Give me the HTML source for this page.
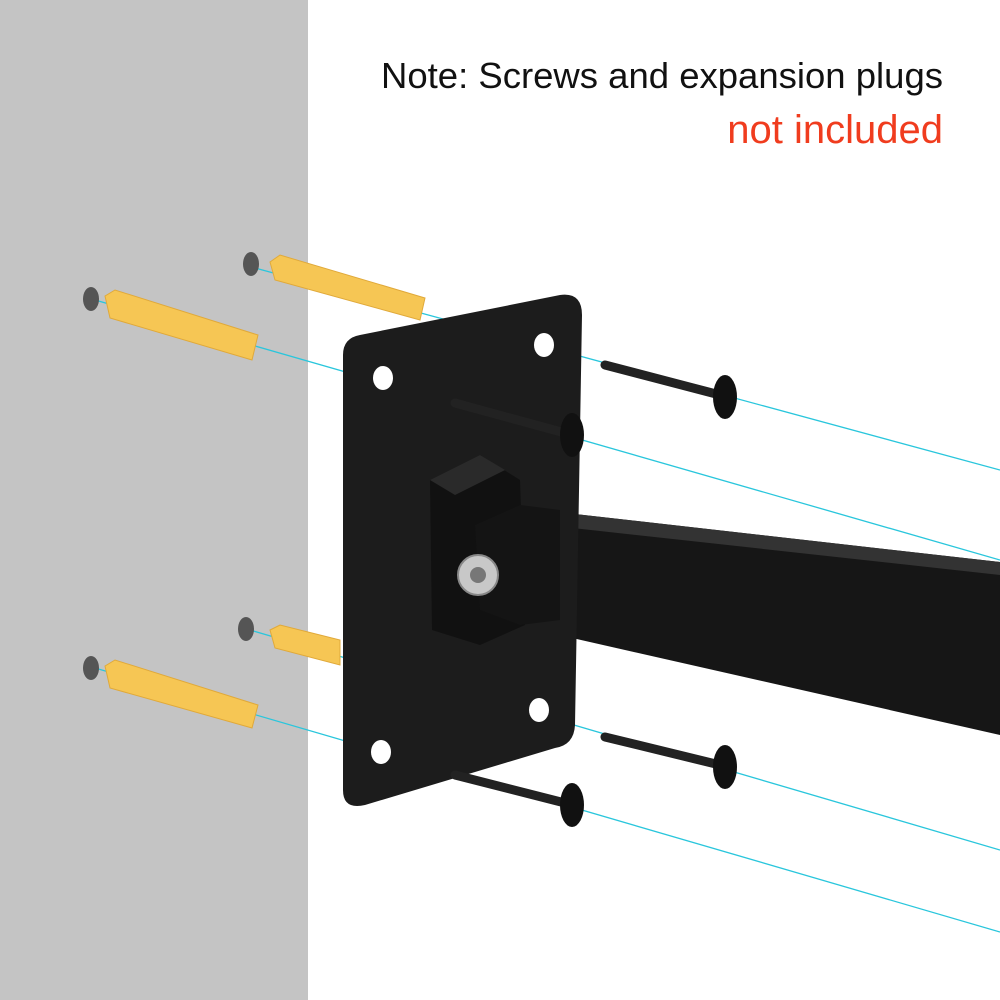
<!DOCTYPE html>
<html><head><meta charset="utf-8"><style>
html,body{margin:0;padding:0;width:1000px;height:1000px;overflow:hidden;background:#fff}
svg{display:block}
</style></head><body>
<svg width="1000" height="1000" viewBox="0 0 1000 1000" xmlns="http://www.w3.org/2000/svg">
<rect x="0" y="0" width="1000" height="1000" fill="#fff"/>
<rect x="0" y="0" width="308" height="1000" fill="#c4c4c4"/>
<text x="943" y="88" text-anchor="end" font-family="Liberation Sans, sans-serif" font-size="36.5" fill="#111">Note: Screws and expansion plugs</text>
<text x="943" y="143" text-anchor="end" font-family="Liberation Sans, sans-serif" font-size="40" fill="#f03c1e">not included</text>

<g stroke="#29c6dc" stroke-width="1.3">
<line x1="255" y1="268" x2="1000" y2="470"/>
<line x1="95" y1="300" x2="1000" y2="560"/>
<line x1="250" y1="630" x2="1000" y2="850"/>
<line x1="95" y1="668" x2="1000" y2="932"/>
</g>

<g fill="#555">
<ellipse cx="91" cy="299" rx="8" ry="12"/>
<ellipse cx="251" cy="264" rx="8" ry="12"/>
<ellipse cx="246" cy="629" rx="8" ry="12"/>
<ellipse cx="91" cy="668" rx="8" ry="12"/>
</g>

<g fill="#f6c654" stroke="#e0a93a" stroke-width="1">
<polygon points="270,262 280,255 425,298 420,320 275,280"/>
<polygon points="105,296 115,290 258,335 252,360 110,318"/>
<polygon points="270,630 280,625 340,640 340,665 275,648"/>
<polygon points="105,666 115,660 258,705 252,728 110,688"/>
</g>

<polygon points="495,505 1000,562 1000,735 515,625" fill="#161616"/>
<polygon points="495,505 1000,562 1000,575 500,520" fill="#333"/>

<path d="M360,335 L560,295 Q582,292 582,315 L575,725 Q574,745 555,748 L365,805 Q343,810 343,790 L343,355 Q343,338 360,335 Z" fill="#1c1c1c"/>
<polygon points="430,480 480,455 520,480 525,625 480,645 432,630" fill="#111"/>
<polygon points="430,480 480,455 505,470 455,495" fill="#2a2a2a"/>
<polygon points="475,525 520,505 560,510 560,620 520,625 480,610" fill="#141414"/>
<circle cx="478" cy="575" r="20" fill="#c8c8c8" stroke="#888" stroke-width="2"/>
<circle cx="478" cy="575" r="8" fill="#777"/>
<g fill="#fff">
<ellipse cx="383" cy="378" rx="10" ry="12"/>
<ellipse cx="544" cy="345" rx="10" ry="12"/>
<ellipse cx="539" cy="710" rx="10" ry="12"/>
<ellipse cx="381" cy="752" rx="10" ry="12"/>
</g>

<g stroke="#222" stroke-width="9" stroke-linecap="round">
<line x1="605" y1="365" x2="720" y2="395"/>
<line x1="455" y1="403" x2="565" y2="433"/>
<line x1="605" y1="737" x2="720" y2="765"/>
<line x1="455" y1="775" x2="565" y2="803"/>
</g>
<g fill="#111">
<ellipse cx="725" cy="397" rx="12" ry="22"/>
<ellipse cx="572" cy="435" rx="12" ry="22"/>
<ellipse cx="725" cy="767" rx="12" ry="22"/>
<ellipse cx="572" cy="805" rx="12" ry="22"/>
</g>
</svg>
</body></html>
